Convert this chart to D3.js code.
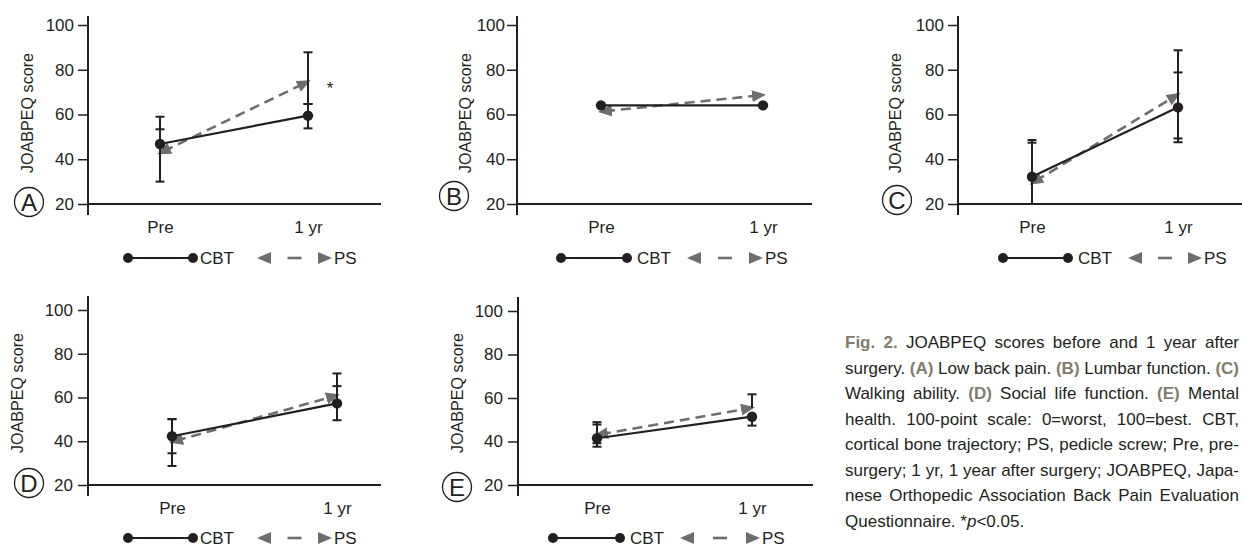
<!DOCTYPE html>
<html>
<head>
<meta charset="utf-8">
<script src="https://cdn.jsdelivr.net/npm/d3@7"></script>
<style>
  html, body { margin: 0; padding: 0; background: #fff; }
  svg { display: block; }
</style>
</head>
<body>
<script>
const fontFamily = "'Liberation Sans', Arial, Helvetica, sans-serif";
const ink = "#231f20";
const psColor = "#6d6e70";
const accent = "#7f7d6b";

const timepoints = ["Pre", "1 yr"];
const yTicks = [20, 40, 60, 80, 100];
const panelLetters = ["A", "B", "C", "D", "E"];
const seriesNames = ["CBT", "PS"];

// mean JOABPEQ score per panel, [Pre, 1 yr]
const cbtMean = [[46.8, 59.5], [64.1, 64.1], [32.2, 63.2], [42.3, 57.3], [41.5, 51.4]];
const psMean  = [[42.8, 74.7], [61.3, 68.7], [29.3, 69.0], [39.7, 61.0], [43.0, 55.5]];

// whisker ends (null = no whisker on that side)
const cbtLow  = [[null, 53.8], [null, null], [17.0, 47.6], [34.5, 49.6], [37.6, 47.3]];
const cbtHigh = [[59.0, 64.7], [null, null], [47.4, 78.8], [50.1, 65.2], [47.8, null]];
const psLow   = [[30.0, 64.7], [null, null], [10.0, 49.3], [28.7, null], [39.2, null]];
const psHigh  = [[53.4, 87.8], [null, null], [48.6, 88.7], [50.1, 71.0], [48.9, 61.7]];

// significance marks for PS
const psStar = [[false, true], [false, false], [false, false], [false, false], [false, false]];

const captionLines = [
    [["Fig. 2.", "b"], [" JOABPEQ scores before and 1 year after", ""]],
    [["surgery. ", ""], ["(A)", "b"], [" Low back pain. ", ""], ["(B)", "b"], [" Lumbar function. ", ""], ["(C)", "b"]],
    [["Walking ability. ", ""], ["(D)", "b"], [" Social life function. ", ""], ["(E)", "b"], [" Mental", ""]],
    [["health. 100-point scale: 0=worst, 100=best. CBT,", ""]],
    [["cortical bone trajectory; PS, pedicle screw; Pre, pre-", ""]],
    [["surgery; 1 yr, 1 year after surgery; JOABPEQ, Japa-", ""]],
    [["nese Orthopedic Association Back Pain Evaluation", ""]],
    [["Questionnaire. *", ""], ["p", "i"], ["<0.05.", ""]]
];

// pixel layout of the five panels
const layout = [
    { ax: 88,  end: 381,  pts: [160, 308],   yTop: 25,  yBot: 204, axTop: 16,  axBot: 215, circ: [29, 202],  ylab: [33, 113],  pad: 4, legY: 258, leg: [128, 193, 200, 257, 332, 334] },
    { ax: 517, end: 812,  pts: [601, 763],   yTop: 25,  yBot: 204, axTop: 16,  axBot: 215, circ: [454, 196], ylab: [471, 113], pad: 2, legY: 258, leg: [561, 627, 637, 687, 763, 765] },
    { ax: 958, end: 1251, pts: [1032, 1178], yTop: 25,  yBot: 204, axTop: 16,  axBot: 215, circ: [897, 200], ylab: [901, 113], pad: 4, legY: 258, leg: [1003, 1068, 1078, 1128, 1202, 1204] },
    { ax: 88,  end: 381,  pts: [172, 337],   yTop: 310, yBot: 485, axTop: 296, axBot: 496, circ: [29, 483],  ylab: [23, 393],  pad: 5, legY: 538, leg: [128, 193, 200, 257, 332, 334] },
    { ax: 518, end: 813,  pts: [597, 752],   yTop: 311, yBot: 485, axTop: 297, axBot: 496, circ: [457, 487], ylab: [463, 393], pad: 5, legY: 538, leg: [553, 620, 630, 680, 760, 762] }
];

const width = 1242;
const height = 547;

const svg = d3.select("body").append("svg")
    .attr("width", width)
    .attr("height", height)
    .style("font-family", fontFamily)
    .style("overflow", "hidden");

svg.append("defs").append("marker")
    .attr("id", "psArrow")
    .attr("viewBox", "0 0 14 12")
    .attr("refX", 11)
    .attr("refY", 6)
    .attr("markerWidth", 14)
    .attr("markerHeight", 12)
    .attr("markerUnits", "userSpaceOnUse")
    .attr("orient", "auto-start-reverse")
    .append("path")
    .attr("d", "M0,0L14,6L0,12Z")
    .attr("fill", psColor);


function drawPanel(i) {
    const L = layout[i];
    const g = svg.append("g").attr("class", "panel-" + panelLetters[i]);

    const x = d3.scalePoint().domain(timepoints).range(L.pts);
    const y = d3.scaleLinear().domain([20, 100]).range([L.yBot, L.yTop]);

    // y axis
    const yAxis = g.append("g")
        .attr("transform", `translate(${L.ax},0)`)
        .call(d3.axisLeft(y).tickValues(yTicks).tickSize(10).tickPadding(L.pad));
    yAxis.select(".domain").remove();
    yAxis.selectAll(".tick line").attr("stroke", ink).attr("stroke-width", 1.5);
    yAxis.selectAll(".tick text")
        .attr("fill", ink)
        .style("font-size", "17px")
        .style("font-family", fontFamily);
    g.append("line")
        .attr("x1", L.ax).attr("x2", L.ax)
        .attr("y1", L.axTop).attr("y2", L.axBot)
        .attr("stroke", ink).attr("stroke-width", 2);

    // x axis
    const xAxis = g.append("g")
        .attr("transform", `translate(0,${L.yBot})`)
        .call(d3.axisBottom(x).tickSize(0).tickPadding(17));
    xAxis.select(".domain").remove();
    xAxis.selectAll(".tick text")
        .attr("fill", ink)
        .style("font-size", "17px")
        .style("font-family", fontFamily);
    g.append("line")
        .attr("x1", L.ax - 1).attr("x2", L.end)
        .attr("y1", L.yBot).attr("y2", L.yBot)
        .attr("stroke", ink).attr("stroke-width", 2);

    // y label
    g.append("text")
        .attr("transform", `translate(${L.ylab[0]},${L.ylab[1]}) rotate(-90)`)
        .attr("text-anchor", "middle")
        .attr("fill", ink)
        .style("font-size", "17px")
        .attr("textLength", 120)
        .attr("lengthAdjust", "spacingAndGlyphs")
        .text("JOABPEQ score");

    // panel letter
    g.append("circle")
        .attr("cx", L.circ[0]).attr("cy", L.circ[1]).attr("r", 14.5)
        .attr("fill", "none").attr("stroke", ink).attr("stroke-width", 1.3);
    g.append("text")
        .attr("x", L.circ[0]).attr("y", L.circ[1] + 8.5)
        .attr("text-anchor", "middle")
        .attr("fill", ink)
        .style("font-size", "24px")
        .text(panelLetters[i]);

    // PS dashed line with arrow heads
    const psPts = timepoints.map((t, k) => [x(t), y(psMean[i][k])]);
    g.append("line")
        .attr("x1", psPts[0][0]).attr("y1", psPts[0][1])
        .attr("x2", psPts[1][0]).attr("y2", psPts[1][1])
        .attr("stroke", psColor)
        .attr("stroke-width", 2.6)
        .attr("stroke-dasharray", "10,6")
        .attr("stroke-dashoffset", -4)
        .attr("marker-start", "url(#psArrow)")
        .attr("marker-end", "url(#psArrow)");

    // error bars
    const whiskers = [];
    timepoints.forEach((t, k) => {
        [[cbtMean, cbtLow, cbtHigh], [psMean, psLow, psHigh]].forEach(([m, lo, hi]) => {
            [lo[i][k], hi[i][k]].forEach(v => {
                if (v !== null) whiskers.push({ t: t, from: m[i][k], to: v });
            });
        });
    });
    const wg = g.append("g").attr("stroke", ink).attr("stroke-width", 2);
    wg.selectAll("line.bar")
        .data(whiskers)
        .enter()
        .append("line")
        .attr("x1", d => x(d.t)).attr("x2", d => x(d.t))
        .attr("y1", d => y(d.from))
        .attr("y2", d => y(Math.max(20, d.to)));
    wg.selectAll("line.cap")
        .data(whiskers.filter(d => d.to > 20))
        .enter()
        .append("line")
        .attr("x1", d => x(d.t) - 4.5).attr("x2", d => x(d.t) + 4.5)
        .attr("y1", d => y(d.to)).attr("y2", d => y(d.to));

    // CBT solid line with dots
    const line = d3.line().x(d => x(d[0])).y(d => y(d[1]));
    const cbtPts = timepoints.map((t, k) => [t, cbtMean[i][k]]);
    g.append("path")
        .datum(cbtPts)
        .attr("d", line)
        .attr("fill", "none")
        .attr("stroke", ink)
        .attr("stroke-width", 2.2);
    g.selectAll("circle.cbt")
        .data(cbtPts)
        .enter()
        .append("circle")
        .attr("class", "cbt")
        .attr("cx", d => x(d[0])).attr("cy", d => y(d[1]))
        .attr("r", 5.2)
        .attr("fill", ink);

    // significance
    timepoints.forEach((t, k) => {
        if (psStar[i][k]) {
            g.append("text")
                .attr("x", x(t) + 22).attr("y", y(psMean[i][k]) + 12)
                .attr("text-anchor", "middle")
                .attr("fill", ink)
                .style("font-size", "17px")
                .text("*");
        }
    });

    // legend
    const lg = g.append("g");
    const ly = L.legY;
    lg.append("line")
        .attr("x1", L.leg[0]).attr("x2", L.leg[1])
        .attr("y1", ly).attr("y2", ly)
        .attr("stroke", ink).attr("stroke-width", 2.2);
    lg.selectAll("circle")
        .data([L.leg[0], L.leg[1]])
        .enter()
        .append("circle")
        .attr("cx", d => d).attr("cy", ly).attr("r", 5)
        .attr("fill", ink);
    lg.append("text")
        .attr("x", L.leg[2]).attr("y", ly + 6)
        .attr("fill", ink)
        .style("font-size", "17px")
        .text(seriesNames[0]);
    const mid = (L.leg[3] + L.leg[4]) / 2;
    lg.append("line")
        .attr("x1", mid - 7).attr("x2", mid + 7)
        .attr("y1", ly).attr("y2", ly)
        .attr("stroke", psColor).attr("stroke-width", 2.6);
    lg.append("line")
        .attr("x1", L.leg[3] + 3).attr("x2", L.leg[3] + 8)
        .attr("y1", ly).attr("y2", ly)
        .attr("stroke", psColor).attr("stroke-width", 2.6)
        .attr("marker-start", "url(#psArrow)");
    lg.append("line")
        .attr("x1", L.leg[4] - 8).attr("x2", L.leg[4] - 3)
        .attr("y1", ly).attr("y2", ly)
        .attr("stroke", psColor).attr("stroke-width", 2.6)
        .attr("marker-end", "url(#psArrow)");
    lg.append("text")
        .attr("x", L.leg[5]).attr("y", ly + 6)
        .attr("fill", ink)
        .style("font-size", "17px")
        .text(seriesNames[1]);
}


function drawCaption() {
    const cx = 845;
    const lineWidth = 394;
    captionLines.forEach((parts, li) => {
        const t = svg.append("text")
            .attr("x", cx)
            .attr("y", 348 + li * 25.5)
            .attr("fill", ink)
            .style("font-size", "17px");
        parts.forEach(([s, style]) => {
            const sp = t.append("tspan").text(s);
            if (style === "b") sp.attr("font-weight", "bold").attr("fill", accent);
            if (style === "i") sp.attr("font-style", "italic");
        });
        // justify every line but the last
        if (li < captionLines.length - 1) {
            const len = t.node().getComputedTextLength();
            const spaces = parts.map(p => p[0]).join("").split(" ").length - 1;
            if (spaces > 0) {
                t.attr("word-spacing", (lineWidth - len) / spaces);
            }
        }
    });
}


panelLetters.forEach((_, i) => drawPanel(i));
drawCaption();
</script>
</body>
</html>
